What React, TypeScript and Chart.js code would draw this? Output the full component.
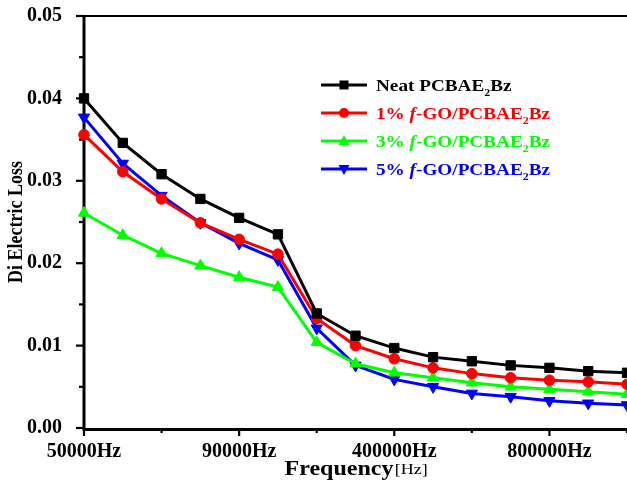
import React, { useEffect, useRef } from 'react';
import { Chart, registerables } from 'chart.js';

Chart.register(...registerables);

const frequencies = [
  '50000Hz', '60000Hz', '70000Hz', '80000Hz', '90000Hz', '100000Hz', '200000Hz',
  '300000Hz', '400000Hz', '500000Hz', '600000Hz', '700000Hz', '800000Hz', '900000Hz', '1000000Hz',
];
const labeledFrequencies = ['50000Hz', '90000Hz', '400000Hz', '800000Hz'];

const neat = [0.04, 0.0346, 0.0308, 0.0278, 0.0255, 0.0235, 0.0139, 0.0112, 0.0097, 0.0086, 0.0081, 0.0076, 0.0073, 0.0069, 0.0067];
const go1 = [0.0356, 0.0311, 0.0278, 0.0249, 0.0229, 0.0211, 0.0133, 0.01, 0.0084, 0.0073, 0.0066, 0.0061, 0.0058, 0.0056, 0.0053];
const go3 = [0.0261, 0.0234, 0.0212, 0.0197, 0.0183, 0.0171, 0.0104, 0.0078, 0.0067, 0.0061, 0.0055, 0.005, 0.0047, 0.0044, 0.0041];
const go5 = [0.0377, 0.0321, 0.0282, 0.0249, 0.0224, 0.0204, 0.0121, 0.0076, 0.0059, 0.005, 0.0042, 0.0038, 0.0033, 0.003, 0.0028];

// '*' toggles italic, '_' marks next char as subscript
const seriesNames = ['Neat PCBAE_2Bz', '1% *f*-GO/PCBAE_2Bz', '3% *f*-GO/PCBAE_2Bz', '5% *f*-GO/PCBAE_2Bz'];
const seriesColors = ['#000000', '#ff0000', '#00ff00', '#0000ff'];
const seriesStyles = ['rect', 'circle', 'triangle', 'triangleDown'];

const yAxisTitle = 'Di Electric Loss';
const xAxisTitle = 'Frequency';
const xAxisUnit = '[Hz]';

const FONT = '"Liberation Serif", "Times New Roman", serif';
const SX = 1.13;

function drawRich(ctx: CanvasRenderingContext2D, text: string, x: number, y: number, size: number, color: string) {
  ctx.save();
  ctx.translate(x, y);
  ctx.scale(SX, 1);
  ctx.fillStyle = color;
  ctx.textBaseline = 'alphabetic';
  ctx.textAlign = 'left';
  let italic = false;
  let cx = 0;
  for (let i = 0; i < text.length; i++) {
    let ch = text[i];
    if (ch === '*') { italic = !italic; continue; }
    let sub = false;
    if (ch === '_') { sub = true; ch = text[++i]; }
    const fs = sub ? size * 0.62 : size;
    ctx.font = `${italic ? 'italic ' : ''}bold ${fs}px ${FONT}`;
    ctx.fillText(ch, cx, sub ? size * 0.28 : 0);
    cx += ctx.measureText(ch).width;
  }
  ctx.restore();
}

function drawMarker(ctx: CanvasRenderingContext2D, style: string, x: number, y: number, color: string) {
  ctx.save();
  ctx.fillStyle = color;
  ctx.beginPath();
  if (style === 'rect') {
    ctx.rect(x - 4.5, y - 4.5, 9, 9);
  } else if (style === 'circle') {
    ctx.arc(x, y, 5, 0, Math.PI * 2);
  } else if (style === 'triangle') {
    ctx.moveTo(x, y - 6); ctx.lineTo(x + 5.5, y + 4); ctx.lineTo(x - 5.5, y + 4); ctx.closePath();
  } else {
    ctx.moveTo(x, y + 6); ctx.lineTo(x + 5.5, y - 4); ctx.lineTo(x - 5.5, y - 4); ctx.closePath();
  }
  ctx.fill();
  ctx.restore();
}

const axesPlugin = {
  id: 'axesDecor',
  beforeDatasetsDraw(chart: any) {
    const { ctx, chartArea: a, scales } = chart;
    const x = scales.x, y = scales.y;
    ctx.save();
    ctx.strokeStyle = '#000';
    ctx.lineCap = 'butt';
    // top border
    ctx.lineWidth = 2;
    ctx.beginPath(); ctx.moveTo(a.left, a.top); ctx.lineTo(a.right, a.top); ctx.stroke();
    // y ticks
    ctx.lineWidth = 2.2;
    y.ticks.forEach((t: any) => {
      const py = y.getPixelForValue(t.value);
      const major = Math.round(t.value / 0.005) % 2 === 0;
      ctx.beginPath(); ctx.moveTo(a.left - (major ? 8 : 5), py); ctx.lineTo(a.left, py); ctx.stroke();
    });
    // x ticks
    x.ticks.forEach((t: any, i: number) => {
      if (i % 2 !== 0) return;
      const px = x.getPixelForValue(i);
      const major = i % 4 === 0;
      ctx.beginPath(); ctx.moveTo(px, a.bottom); ctx.lineTo(px, a.bottom + (major ? 8 : 5)); ctx.stroke();
    });
    // left & bottom axes
    ctx.lineWidth = 3;
    ctx.beginPath(); ctx.moveTo(a.left, a.top - 1); ctx.lineTo(a.left, a.bottom + 1.5); ctx.lineTo(a.right, a.bottom + 1.5); ctx.stroke();
    ctx.restore();
  },
  afterDraw(chart: any) {
    const { ctx, chartArea: a } = chart;
    ctx.save();
    // y title
    ctx.translate(17, (a.top + a.bottom) / 2);
    ctx.rotate(-Math.PI / 2);
    ctx.scale(1, 1.17);
    ctx.font = `bold 18px ${FONT}`;
    ctx.fillStyle = '#000';
    ctx.textAlign = 'center';
    ctx.textBaseline = 'middle';
    ctx.fillText(yAxisTitle, 0, 0);
    ctx.restore();

    // x title
    ctx.save();
    ctx.font = `bold 20px ${FONT}`;
    const w1 = ctx.measureText(xAxisTitle).width * 1.2;
    ctx.font = `15px ${FONT}`;
    const w2 = ctx.measureText(xAxisUnit).width * 1.2;
    const startX = (a.left + a.right) / 2 - (w1 + w2) / 2;
    ctx.fillStyle = '#000';
    ctx.textBaseline = 'alphabetic';
    ctx.translate(startX, 475);
    ctx.scale(1.2, 1);
    ctx.font = `bold 20px ${FONT}`;
    ctx.fillText(xAxisTitle, 0, 0);
    ctx.font = `15px ${FONT}`;
    ctx.fillText(xAxisUnit, w1 / 1.2 + 1, -1);
    ctx.restore();

    // legend
    seriesNames.forEach((name, i) => {
      const cy = 85 + i * 28;
      const color = seriesColors[i];
      ctx.save();
      ctx.strokeStyle = color;
      ctx.lineWidth = 3;
      ctx.beginPath(); ctx.moveTo(321, cy); ctx.lineTo(367, cy); ctx.stroke();
      ctx.restore();
      drawMarker(ctx, seriesStyles[i], 344, cy, color);
      drawRich(ctx, name, 376, cy + 6, 17, color);
    });
  },
};

const seriesData = [neat, go1, go3, go5];

export default function App() {
  const ref = useRef<HTMLCanvasElement>(null);
  useEffect(() => {
    document.body.style.margin = '0';
    const canvas = ref.current!;
    const chart = new Chart(canvas, {
      type: 'line',
      data: {
        labels: frequencies,
        datasets: seriesData.map((d, i) => ({
          label: seriesNames[i],
          data: d,
          borderColor: seriesColors[i],
          backgroundColor: seriesColors[i],
          borderWidth: 3,
          pointStyle: seriesStyles[i] === 'triangleDown' ? 'triangle' : (seriesStyles[i] as any),
          rotation: seriesStyles[i] === 'triangleDown' ? 180 : 0,
          pointRadius: seriesStyles[i] === 'rect' ? 6.6 : seriesStyles[i] === 'circle' ? 5.3 : 6.5,
          pointBorderWidth: 1,
          pointBorderColor: seriesColors[i],
          pointBackgroundColor: seriesColors[i],
          tension: 0,
          clip: 12,
        })) as any,
      },
      options: {
        responsive: false,
        animation: false,
        layout: { autoPadding: false, padding: { top: 16, left: 0, right: 0, bottom: 0 } },
        plugins: { legend: { display: false }, tooltip: { enabled: false } },
        scales: {
          x: {
            type: 'category',
            offset: false,
            grid: { display: false },
            border: { display: false },
            afterFit: (s: any) => { s.height = 56; s.paddingLeft = 0; s.paddingRight = 0; },
            ticks: {
              autoSkip: false,
              maxRotation: 0,
              minRotation: 0,
              padding: 4,
              color: '#000',
              font: { family: FONT, size: 20, weight: 'bold' },
              callback: (_v: any, idx: number) => (labeledFrequencies.includes(frequencies[idx]) ? frequencies[idx] : ''),
            },
          },
          y: {
            min: 0,
            max: 0.05,
            grid: { display: false },
            border: { display: false },
            afterFit: (s: any) => { s.width = 84; s.paddingTop = 0; s.paddingBottom = 0; },
            ticks: {
              stepSize: 0.005,
              padding: 14,
              color: '#000',
              font: { family: FONT, size: 20, weight: 'bold' },
              callback: (v: any) => {
                const n = Number(v) * 100;
                return Math.abs(n - Math.round(n)) < 1e-6 ? Number(v).toFixed(2) : '';
              },
            },
          },
        },
      },
      plugins: [axesPlugin],
    });
    return () => chart.destroy();
  }, []);
  return (
    <div style={{ position: 'fixed', left: 0, top: 0, width: 627, height: 484, background: '#fff' }}>
      <canvas ref={ref} width={627} height={484} style={{ display: 'block' }} />
    </div>
  );
}
